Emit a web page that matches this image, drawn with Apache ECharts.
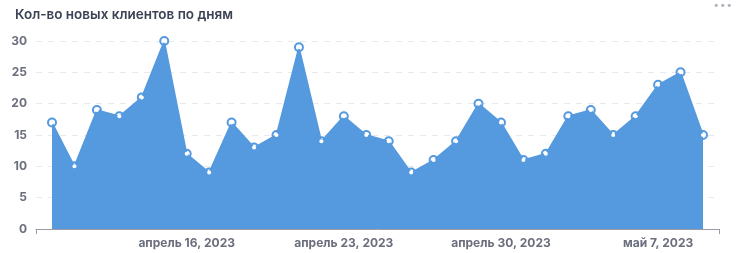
<!DOCTYPE html>
<html>
<head>
<meta charset="utf-8">
<script src="https://cdn.jsdelivr.net/npm/echarts@6/dist/echarts.min.js"></script>
<style>
html,body{margin:0;padding:0;background:#fff;}
#chart{width:741px;height:253px;}
</style>
</head>
<body>
<div id="chart"></div>
<script>
const dates = ['2023-04-10','2023-04-11','2023-04-12','2023-04-13','2023-04-14','2023-04-15','2023-04-16','2023-04-17','2023-04-18','2023-04-19','2023-04-20','2023-04-21','2023-04-22','2023-04-23','2023-04-24','2023-04-25','2023-04-26','2023-04-27','2023-04-28','2023-04-29','2023-04-30','2023-05-01','2023-05-02','2023-05-03','2023-05-04','2023-05-05','2023-05-06','2023-05-07','2023-05-08','2023-05-09'];
const newClients = [17,10,19,18,21,30,12,9,17,13,15,29,14,18,15,14,9,11,14,20,17,11,12,18,19,15,18,23,25,15];
const xTickDates = ['2023-04-16','2023-04-23','2023-04-30','2023-05-07'];
const monthNames = ['январь','февраль','март','апрель','май','июнь','июль','август','сентябрь','октябрь','ноябрь','декабрь'];
const title = 'Кол-во новых клиентов по дням';

// x position = index of the date in the dates list
const seriesData = dates.map((d,i)=>[i, newClients[i]]);
const pad = 0.713;
const xMin = -pad;
const xMax = dates.length - 1 + pad;
const blue = '#5599DE';
const font = 'Inter, "Noto Sans", sans-serif';

function fmtDate(s){
  const p = s.split('-').map(Number);
  return monthNames[p[1]-1] + ' ' + p[2] + ', ' + p[0];
}

const chart = echarts.init(document.getElementById('chart'), null, {renderer:'canvas'});
chart.setOption({
  animation:false,
  backgroundColor:'#fff',
  title:{text:title,left:10,top:3,textStyle:{fontFamily:font,fontSize:13.5,fontWeight:600,color:'#3d4255'}},
  graphic:[{type:'text',left:713,top:1,style:{text:'•••',fontSize:11,fill:'#b0b2bd',fontFamily:'"DejaVu Sans", sans-serif'}}],
  grid:{left:36,right:22,top:41,bottom:24,containLabel:false},
  xAxis:{
    type:'value', min:xMin, max:xMax,
    axisLine:{show:true,onZero:false,lineStyle:{color:'#9a9aa5',width:1}},
    axisTick:{show:true,length:5,lineStyle:{color:'#9a9aa5',width:1},customValues:[xMin,xMax]},
    splitLine:{show:false},
    axisLabel:{
      customValues:xTickDates.map(d=>dates.indexOf(d)),
      fontFamily:font,fontSize:12,fontWeight:'bold',color:'#6b6e7c',margin:8,
      formatter:function(v){const i=Math.round(v);return dates[i]?fmtDate(dates[i]):'';}
    }
  },
  yAxis:{
    type:'value',min:0,max:30,interval:5,
    axisLine:{show:false},axisTick:{show:false},
    splitLine:{show:true,lineStyle:{color:'#e9e9ec',type:[6,6],width:1}},
    axisLabel:{fontFamily:font,fontSize:12,fontWeight:'bold',color:'#6b6e7c',margin:9}
  },
  series:[
    {type:'line',data:seriesData,z:1,symbol:'circle',symbolSize:8,showSymbol:true,
      lineStyle:{width:0,opacity:0},
      itemStyle:{color:'#ffffff',borderColor:blue,borderWidth:2},silent:true},
    {type:'line',data:seriesData,z:2,symbol:'none',
      lineStyle:{width:1.5,color:blue},areaStyle:{color:blue,opacity:1},silent:true},
    {type:'line',data:seriesData,z:3,symbol:'circle',symbolSize:4,showSymbol:true,
      lineStyle:{width:0,opacity:0},
      itemStyle:{color:'#ffffff',borderWidth:0},silent:true}
  ]
});
</script>
</body>
</html>
